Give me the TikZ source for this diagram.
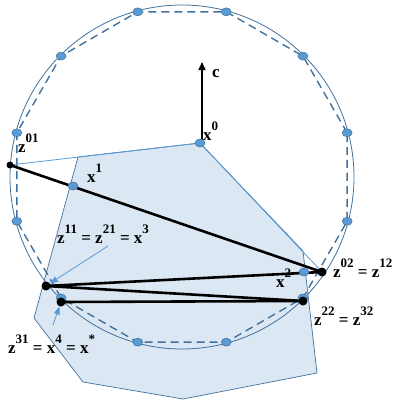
\documentclass[tikz,border=0pt]{standalone}
\usepackage{fontspec}
\setmainfont{Liberation Serif}
\usetikzlibrary{arrows.meta,calc,shapes.geometric}
\definecolor{dotblue}{HTML}{5B9BD5}
\definecolor{edgeblue}{HTML}{41719C}
\definecolor{fillblue}{HTML}{DCE7F4}
\definecolor{lineblue}{HTML}{5B9BD5}
\newcommand{\spr}[1]{\raisebox{0.55em}{\fontsize{13}{13}\selectfont #1}}
\tikzset{
  bdot/.style={ellipse, fill=dotblue, draw=edgeblue, line width=0.5pt, inner sep=0pt, minimum width=10pt, minimum height=8pt},
  kdot/.style={circle, fill=black, inner sep=0pt, minimum size=9pt},
  lbl/.style={anchor=base west, inner sep=0pt, font=\bfseries\fontsize{17}{17}\selectfont},
  thick line/.style={black, line width=2.6pt},
  thin blue/.style={lineblue, line width=0.8pt},
  dashpoly/.style={edgeblue, line width=1.4pt, dash pattern=on 8pt off 5pt},
}
\begin{document}
\begin{tikzpicture}[x=1pt,y=-1pt]
\useasboundingbox (0,0) rectangle (397,405);
% feasible region
\coordinate (A) at (200,143);
\coordinate (B) at (303,251);
\coordinate (C) at (317,373);
\coordinate (D) at (183,399);
\coordinate (E) at (83,382);
\coordinate (F) at (34,318);
\coordinate (G) at (78,157);
\filldraw[fill=fillblue, draw=edgeblue, line width=0.7pt] (A)--(B)--(C)--(D)--(E)--(F)--(G)--cycle;
% circle
\coordinate (O) at (182,177);
\draw[edgeblue, line width=0.8pt] (O) circle[radius=172pt];
% dodecagon
\foreach \i in {0,...,11} \coordinate (v\i) at ($(O)+(15+30*\i:171pt)$);
\draw[dashpoly] (v0)--(v1)--(v2)--(v3)--(v4)--(v5)--(v6)--(v7)--(v8)--(v9)--(v10)--(v11)--cycle;
% points
\coordinate (z01) at (10,165);
\coordinate (z02) at (322,272);
\coordinate (z11) at (46,286);
\coordinate (z31) at (61,302);
\coordinate (z22) at (303,301);
\coordinate (x1) at (73,186);
\coordinate (x2) at (304,272);
% thin blue rays
\draw[thin blue] (z01) -- (A);
\draw[thin blue] (A) -- (z02);
% objective arrow
\coordinate (ctip) at (202,62);
\draw[black, line width=1.3pt, -{Triangle[length=8pt,width=7pt]}] (202,143) -- (ctip);
% thick segments
\draw[thick line] (z01) -- (z02);
\draw[thick line] (z11) -- (z02);
\draw[thick line] (z11) -- (z22);
\draw[thick line] (z31) -- (z22);
% blue dots
\foreach \i in {0,...,11} \node[bdot] (d\i) at (v\i) {};
\node[bdot] (nx0) at (A) {};
\node[bdot] (nx1) at (x1) {};
\node[bdot] (nx2) at (x2) {};
% black dots
\node[kdot, minimum size=7pt] (nz01) at (z01) {};
\node[kdot] (nz02) at (z02) {};
\node[kdot] (nz11) at (z11) {};
\node[kdot] (nz31) at (z31) {};
\node[kdot] (nz22) at (z22) {};
% pointer arrows
\coordinate (p1) at (108,246);
\coordinate (p2) at (53,325);
\draw[thin blue, -{Triangle[length=8pt,width=6pt]}] (p1) -- (nz11);
\draw[thin blue, -{Triangle[length=8pt,width=6pt]}] (p2) -- (nz31);
% labels
\node[lbl] (lc) at (212,77) {c};
\node[lbl] (lx0) at (203,140) {x\spr{0}};
\node[lbl] (lz01) at (18,152) {z\spr{01}};
\node[lbl] (lx1) at (87,182) {x\spr{1}};
\node[lbl] (l3) at (57,243) {z\spr{11} = z\spr{21} = x\spr{3}};
\node[lbl] (lx2) at (276,287) {x\spr{2}};
\node[lbl] (lz02) at (333,277) {z\spr{02} = z\spr{12}};
\node[lbl] (lz22) at (314,325) {z\spr{22} = z\spr{32}};
\node[lbl] (lz31) at (8,353) {z\spr{31} = x\spr{4} = x\spr{*}};
\end{tikzpicture}
\end{document}
